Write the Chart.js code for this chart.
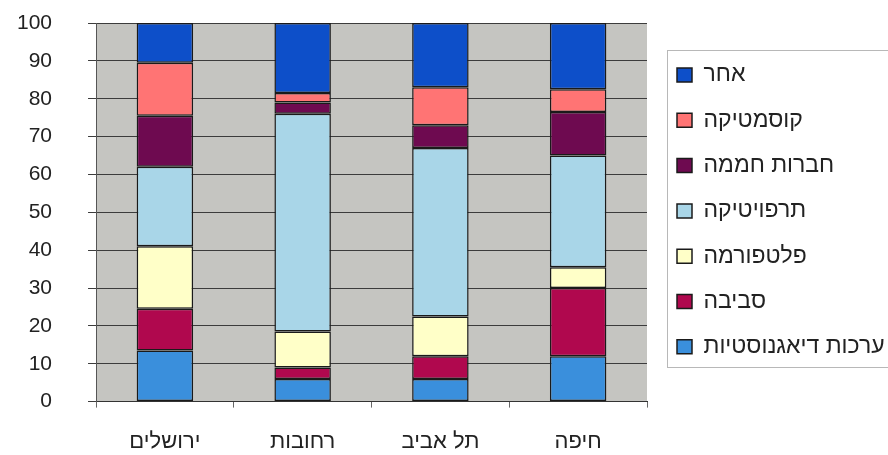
<!DOCTYPE html>
<html lang="he">
<head>
<meta charset="utf-8">
<script src="https://cdn.jsdelivr.net/npm/chart.js@4.4.1/dist/chart.umd.min.js"></script>
<style>
  html, body { margin: 0; padding: 0; background: #ffffff; }
  #wrap { width: 888px; height: 455px; }
</style>
</head>
<body>
<div id="wrap"><canvas id="c" width="888" height="455"></canvas></div>
<script>
// ---- Data ----
const categories = ['ירושלים', 'רחובות', 'תל אביב', 'חיפה'];

const diagnosticKits = [13.5, 6, 6, 12];       // ערכות דיאגנוסטיות
const environment    = [11, 3, 6, 18];         // סביבה
const platform       = [16.5, 9.5, 10.5, 5.5]; // פלטפורמה
const therapeutics   = [21, 57.5, 44.5, 29.5]; // תרפויטיקה
const incubators     = [13.5, 3, 6, 11.5];     // חברות חממה
const cosmetics      = [14, 2.5, 10, 6];       // קוסמטיקה
const other          = [10.5, 18.5, 17, 17.5]; // אחר

const seriesNames = ['ערכות דיאגנוסטיות', 'סביבה', 'פלטפורמה', 'תרפויטיקה', 'חברות חממה', 'קוסמטיקה', 'אחר'];
const yTicks = [0, 10, 20, 30, 40, 50, 60, 70, 80, 90, 100];

// ---- Styles ----
const seriesColors = ['#3a8fdc', '#b0084e', '#ffffc8', '#a9d6e8', '#6e0a50', '#ff7474', '#0d4fc9'];
const seriesValues = [diagnosticKits, environment, platform, therapeutics, incubators, cosmetics, other];

const FONT = '"Liberation Sans", Arial, "DejaVu Sans", sans-serif';
const LEGEND_WIDTH = 241;

const datasets = seriesNames.map((name, i) => ({
  label: name,
  data: seriesValues[i],
  backgroundColor: seriesColors[i],
  borderColor: '#1a1a1a',
  borderWidth: 1.5,
  borderSkipped: false,
  categoryPercentage: 1.0,
  barPercentage: 0.41
}));

function tightScale(scale) {
  scale.paddingLeft = 0;
  scale.paddingRight = 0;
  scale.paddingTop = 0;
  scale.paddingBottom = 0;
  const pad = scale.options.ticks.padding;
  if (scale.isHorizontal()) {
    scale.height -= pad;
  } else {
    scale.width -= pad;
  }
}

const plotBg = {
  id: 'plotBg',
  beforeDraw(chart) {
    const { ctx, chartArea: a } = chart;
    ctx.save();
    ctx.fillStyle = '#c5c5c1';
    ctx.fillRect(a.left, a.top, a.right - a.left, a.bottom - a.top);
    ctx.restore();
  }
};

const legendTweak = {
  id: 'legendTweak',
  beforeLayout(chart) {
    const lg = chart.legend;
    if (lg && !lg._fixedFit) {
      const orig = lg.fit;
      lg.fit = function () { orig.call(this); this.width = LEGEND_WIDTH; };
      lg._fixedFit = true;
    }
  },
  afterLayout(chart) {
    const lg = chart.legend;
    if (!lg) return;
    lg.left += 7.7;
    lg.right += 7.7;
    lg.top = chart.chartArea.top + 18.2;
  },
  afterDraw(chart) {
    const lg = chart.legend;
    if (!lg || !lg.legendHitBoxes || !lg.legendHitBoxes.length) return;
    const hb = lg.legendHitBoxes;
    const first = hb[0], last = hb[hb.length - 1];
    const x0 = Math.round(first.left - 10) + 0.5;
    const y0 = Math.round(first.top - 13.5) + 0.5;
    const y1 = Math.round(last.top + last.height + 9) + 0.5;
    const ctx = chart.ctx;
    ctx.save();
    ctx.strokeStyle = '#b8b8b8';
    ctx.lineWidth = 1;
    ctx.strokeRect(x0, y0, chart.width - x0 + 5, y1 - y0);
    ctx.restore();
  }
};

new Chart(document.getElementById('c'), {
  type: 'bar',
  data: { labels: categories, datasets },
  options: {
    responsive: false,
    animation: false,
    devicePixelRatio: 1,
    layout: { padding: { top: 23, left: 17, bottom: 0, right: 0 } },
    plugins: {
      legend: {
        position: 'right',
        align: 'start',
        reverse: true,
        labels: {
          boxWidth: 15,
          boxHeight: 14,
          padding: 22.3,
          color: '#222',
          font: { family: FONT, size: 23 }
        }
      },
      tooltip: { enabled: false },
      title: { display: false }
    },
    scales: {
      x: {
        stacked: true,
        afterFit: tightScale,
        grid: { display: true, drawOnChartArea: false, drawTicks: true, tickLength: 6, color: '#666', offset: true },
        border: { display: true, color: '#333', width: 1 },
        ticks: { color: '#222', padding: 21, font: { family: FONT, size: 22 } }
      },
      y: {
        stacked: true,
        min: 0,
        max: 100,
        afterFit: tightScale,
        afterBuildTicks(scale) { scale.ticks = yTicks.map(v => ({ value: v })); },
        grid: { color: '#3c3c3c', lineWidth: 1, tickLength: 8, drawTicks: true },
        border: { display: true, color: '#555', width: 1 },
        ticks: { color: '#222', padding: 36, font: { family: FONT, size: 21 } }
      }
    }
  },
  plugins: [plotBg, legendTweak]
});
</script>
</body>
</html>
